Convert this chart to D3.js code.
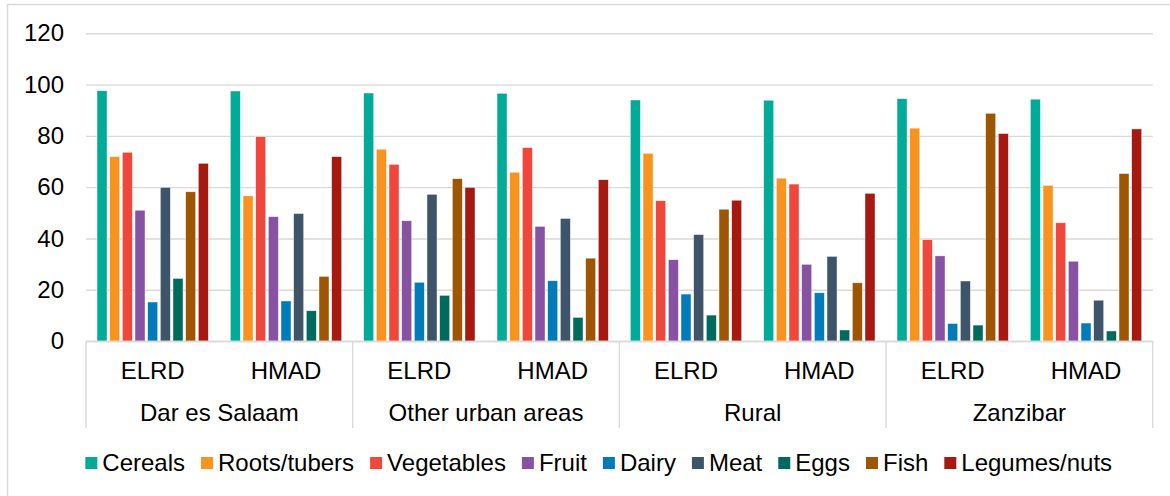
<!DOCTYPE html>
<html>
<head>
<meta charset="utf-8">
<script src="https://cdn.jsdelivr.net/npm/d3@7"></script>
<style>
  html, body { margin: 0; padding: 0; background: #fff; }
  svg { display: block; font-family: "Liberation Sans", Arial, sans-serif; }
</style>
</head>
<body>
<svg id="chart" width="1170" height="496"></svg>
<script>
// Food groups (series)
const series = ["Cereals", "Roots/tubers", "Vegetables", "Fruit", "Dairy", "Meat", "Eggs", "Fish", "Legumes/nuts"];
const colors = ["#02ab98", "#f7931e", "#ef473c", "#8852a2", "#017cb8", "#3e5569", "#006a5e", "#9f5604", "#a51910"];

// Regions and the two measures within each region
const regions = ["Dar es Salaam", "Other urban areas", "Rural", "Zanzibar"];
const measures = ["ELRD", "HMAD"];

// Values per series, ordered: region × measure (8 columns)
const cereals     = [97.6, 97.5, 96.7, 96.6, 94.0, 93.9, 94.5, 94.3];
const rootsTubers = [71.9, 56.6, 74.8, 65.8, 73.2, 63.5, 83.0, 60.7];
const vegetables  = [73.6, 79.7, 68.9, 75.4, 54.7, 61.2, 39.5, 46.1];
const fruit       = [51.0, 48.5, 46.9, 44.7, 31.7, 29.9, 33.2, 31.1];
const dairy       = [15.2, 15.6, 22.9, 23.5, 18.3, 18.8, 6.8, 7.0];
const meat        = [59.9, 49.7, 57.2, 47.8, 41.5, 33.0, 23.4, 15.9];
const eggs        = [24.4, 11.8, 17.8, 9.2, 10.1, 4.3, 6.2, 3.9];
const fish        = [58.2, 25.2, 63.3, 32.3, 51.4, 22.7, 88.8, 65.3];
const legumesNuts = [69.3, 71.9, 59.9, 62.9, 54.9, 57.6, 80.9, 82.7];

const yTicks = [0, 20, 40, 60, 80, 100, 120];

const seriesValues = [cereals, rootsTubers, vegetables, fruit, dairy, meat, eggs, fish, legumesNuts];

// Flattened column keys
const columns = [];
regions.forEach(r => measures.forEach(m => columns.push({ region: r, measure: m, key: r + "|" + m })));

const svg = d3.select("#chart");
const W = 1170, H = 496;
const plot = { left: 86, right: 1152.7, top: 33.3, bottom: 341 };
const FONT = 24;

// Outer frame
svg.append("path")
  .attr("d", `M7.5,${H + 2} V4.5 H${W + 2}`)
  .attr("fill", "none")
  .attr("stroke", "#d9d9d9")
  .attr("stroke-width", 1.5);

const y = d3.scaleLinear().domain([0, 120]).range([plot.bottom, plot.top]);
const x0 = d3.scaleBand().domain(columns.map(c => c.key)).range([plot.left, plot.right]).padding(0);
const x1 = d3.scaleBand().domain(series).range([0, x0.bandwidth()]).paddingInner(0.21).paddingOuter(0.87);
const xRegion = d3.scaleBand().domain(regions).range([plot.left, plot.right]).padding(0);

// Gridlines and y labels
const yAxis = d3.axisLeft(y).tickValues(yTicks).tickSize(-(plot.right - plot.left)).tickPadding(22);
const gy = svg.append("g").attr("transform", `translate(${plot.left},0)`).call(yAxis);
gy.select(".domain").remove();
gy.selectAll(".tick line").attr("stroke", "#d9d9d9").attr("stroke-width", 1.4);
gy.selectAll(".tick text")
  .attr("font-size", FONT)
  .attr("fill", "#000")
  .attr("font-family", "'Liberation Sans', Arial, sans-serif");

// Bars
const colGroups = svg.append("g").selectAll("g")
  .data(columns)
  .join("g")
  .attr("transform", d => `translate(${x0(d.key)},0)`);

colGroups.selectAll("rect")
  .data((d, i) => series.map((s, j) => ({ s, v: seriesValues[j][i], c: colors[j] })))
  .join("rect")
  .attr("x", d => x1(d.s))
  .attr("width", x1.bandwidth())
  .attr("y", d => y(d.v))
  .attr("height", d => y(0) - y(d.v))
  .attr("fill", d => d.c)
  .attr("stroke", "#ffffff")
  .attr("stroke-opacity", 0.7)
  .attr("stroke-width", 0.6);

// Category axis: base line and region dividers
const axisG = svg.append("g");
axisG.append("line")
  .attr("x1", plot.left).attr("x2", plot.right)
  .attr("y1", plot.bottom + 0.5).attr("y2", plot.bottom + 0.5)
  .attr("stroke", "#d9d9d9").attr("stroke-width", 1.4);

const dividers = regions.map(r => xRegion(r)).concat([plot.right]);
axisG.selectAll("line.div")
  .data(dividers)
  .join("line")
  .attr("class", "div")
  .attr("x1", d => d).attr("x2", d => d)
  .attr("y1", plot.bottom).attr("y2", 428)
  .attr("stroke", "#d9d9d9").attr("stroke-width", 1.4);

// Measure labels
axisG.selectAll("text.measure")
  .data(columns)
  .join("text")
  .attr("class", "measure")
  .attr("x", d => x0(d.key) + x0.bandwidth() / 2)
  .attr("y", 378.5)
  .attr("text-anchor", "middle")
  .attr("font-size", FONT)
  .attr("fill", "#000")
  .text(d => d.measure);

// Region labels
axisG.selectAll("text.region")
  .data(regions)
  .join("text")
  .attr("class", "region")
  .attr("x", d => xRegion(d) + xRegion.bandwidth() / 2)
  .attr("y", 421)
  .attr("text-anchor", "middle")
  .attr("font-size", FONT)
  .attr("fill", "#000")
  .text(d => d);

// Legend
const legend = svg.append("g");
const items = legend.selectAll("g")
  .data(series)
  .join("g");
items.append("rect")
  .attr("width", 12).attr("height", 12)
  .attr("y", 457)
  .attr("fill", (d, i) => colors[i]);
items.append("text")
  .attr("x", 17)
  .attr("y", 471)
  .attr("font-size", FONT)
  .attr("fill", "#000")
  .text(d => d);

let cursor = 0;
const offsets = [];
const gap = 16;
items.each(function () {
  offsets.push(cursor);
  const w = d3.select(this).select("text").node().getComputedTextLength();
  cursor += 17 + w + gap;
});
const total = cursor - gap;
const startX = 598.7 - total / 2;
items.attr("transform", (d, i) => `translate(${startX + offsets[i]},0)`);
</script>
</body>
</html>
